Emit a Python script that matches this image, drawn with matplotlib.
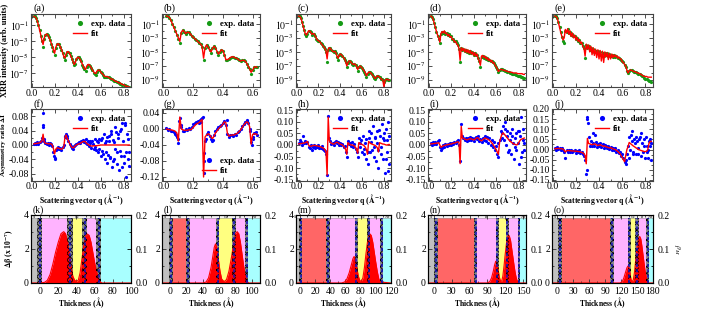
import matplotlib
matplotlib.use('Agg')
import matplotlib.pyplot as plt
import numpy as np
from matplotlib.ticker import FixedLocator, FixedFormatter, NullFormatter, FormatStrFormatter, MultipleLocator

plt.rcParams['font.family'] = ['Liberation Serif', 'DejaVu Serif']
plt.rcParams['mathtext.fontset'] = 'stix'
plt.rcParams['hatch.linewidth'] = 0.6
plt.rcParams['axes.linewidth'] = 0.8

# ---------------- data ----------------
Q = [0.02, 0.03, 0.04, 0.05, 0.06, 0.07, 0.08, 0.09, 0.10, 0.11,
     0.12, 0.13, 0.14, 0.15, 0.16, 0.17, 0.18, 0.19, 0.20, 0.21,
     0.22, 0.23, 0.24, 0.25, 0.26, 0.27, 0.28, 0.29, 0.30, 0.31,
     0.32, 0.33, 0.34, 0.35, 0.36, 0.37, 0.38, 0.39, 0.40, 0.41,
     0.42, 0.43, 0.44, 0.45, 0.46, 0.47, 0.48, 0.49, 0.50, 0.51,
     0.52, 0.53, 0.54, 0.55, 0.56, 0.57, 0.58, 0.59, 0.60, 0.61,
     0.62, 0.63, 0.64, 0.65, 0.66, 0.67, 0.68, 0.69, 0.70, 0.71,
     0.72, 0.73, 0.74, 0.75, 0.76, 0.77, 0.78, 0.79, 0.80, 0.81,
     0.82, 0.83, 0.84, 0.85]

# XRR, log10 of intensity
XRR_A_EXP = [0.15, 0.1, -0.1, -0.5, -1.0, -1.6, -2.3, -3.0, -3.7, -2.7,
             -2.2, -2.1, -2.2, -2.5, -2.9, -3.3, -3.7, -4.2, -4.7, -3.9,
             -3.4, -3.3, -3.4, -3.7, -4.1, -4.5, -5.0, -5.3, -4.7, -4.3,
             -4.3, -4.5, -4.8, -5.2, -5.6, -6.0, -5.8, -5.2, -5.0, -5.0,
             -5.2, -5.5, -5.9, -6.2, -6.5, -6.7, -6.2, -5.9, -5.9, -6.1,
             -6.3, -6.6, -6.9, -7.1, -7.2, -6.8, -6.6, -6.6, -6.8, -7.0,
             -7.2, -7.4, -7.5, -7.5, -7.5, -7.5, -7.6, -7.7, -7.7, -7.8,
             -7.9, -8.0, -8.1, -8.1, -8.2, -8.3, -8.3, -8.4, -8.5, -8.5,
             -8.6, -8.6, -8.7, -8.7]
XRR_A_FIT = [0.1, 0.05, -0.1, -0.5, -1.0, -1.6, -2.2, -2.9, -3.4, -2.6,
             -2.2, -2.1, -2.2, -2.5, -2.8, -3.2, -3.6, -4.1, -4.5, -3.8,
             -3.4, -3.3, -3.4, -3.7, -4.0, -4.4, -4.9, -5.1, -4.6, -4.3,
             -4.3, -4.5, -4.8, -5.1, -5.5, -5.9, -5.7, -5.2, -5.0, -5.0,
             -5.2, -5.5, -5.8, -6.1, -6.4, -6.5, -6.1, -5.9, -5.9, -6.1,
             -6.3, -6.6, -6.8, -7.0, -7.0, -6.7, -6.6, -6.6, -6.8, -7.0,
             -7.1, -7.3, -7.4, -7.4, -7.4, -7.5, -7.6, -7.7, -7.7, -7.8,
             -7.9, -8.0, -8.0, -8.1, -8.2, -8.2, -8.3, -8.4, -8.4, -8.5,
             -8.6, -8.6, -8.7, -8.7]

XRR_B_EXP = [0.15, 0.1, -0.1, -0.5, -1.0, -1.5, -2.0, -2.6, -3.2, -3.8,
             -2.3, -1.9, -2.1, -2.5, -2.2, -2.2, -2.4, -2.7, -2.9, -3.1,
             -3.3, -3.5, -3.7, -3.9, -4.3, -6.2, -4.5, -4.0, -4.3, -4.7,
             -5.1, -4.5, -4.2, -4.4, -5.0, -5.4, -5.0, -4.7, -4.8, -5.5,
             -6.2, -6.1, -6.0, -5.8, -5.7, -5.7, -5.8, -5.9, -6.0, -6.2,
             -6.3, -6.2, -6.2, -6.3, -6.7, -7.1, -7.5, -8.1, -7.6, -7.2,
             -7.1, -7.2]
XRR_B_FIT = [0.1, 0.05, -0.1, -0.5, -1.0, -1.5, -2.0, -2.5, -3.0, -3.5,
             -2.2, -1.9, -2.1, -2.4, -2.2, -2.2, -2.4, -2.7, -2.9, -3.1,
             -3.3, -3.5, -3.7, -3.9, -4.2, -5.9, -4.4, -4.0, -4.3, -4.7,
             -5.0, -4.5, -4.2, -4.4, -4.9, -5.3, -5.0, -4.7, -4.8, -5.4,
             -6.1, -6.1, -6.0, -5.8, -5.7, -5.7, -5.8, -5.9, -6.0, -6.2,
             -6.3, -6.2, -6.2, -6.3, -6.6, -7.0, -7.4, -7.9, -7.6, -7.2,
             -7.1, -7.2]

XRR_C_EXP = [0.15, 0.1, -0.2, -0.7, -1.3, -1.9, -2.5, -2.8, -2.4, -2.0,
             -2.0, -2.2, -2.6, -2.4, -2.4, -2.8, -3.1, -3.3, -3.4, -3.5,
             -3.7, -3.9, -4.1, -4.3, -4.6, -5.0, -6.4, -4.7, -4.4, -4.5,
             -4.7, -4.9, -5.0, -4.9, -5.2, -5.7, -6.1, -5.5, -5.3, -5.4,
             -5.6, -5.8, -6.1, -6.5, -7.2, -6.6, -6.3, -6.3, -6.5, -6.7,
             -6.8, -6.7, -6.9, -7.2, -7.7, -7.2, -7.0, -7.1, -7.3, -7.6,
             -7.8, -8.1, -8.6, -8.2, -7.9, -7.9, -8.0, -8.2, -8.5, -8.7,
             -8.9, -8.6, -8.4, -8.5, -8.6, -8.8, -8.9, -9.0, -9.3, -9.0,
             -8.9, -8.9, -9.0, -9.0]
XRR_C_FIT = [0.1, 0.05, -0.2, -0.7, -1.3, -1.9, -2.4, -2.6, -2.3, -2.0,
             -2.0, -2.2, -2.5, -2.4, -2.4, -2.7, -3.0, -3.3, -3.4, -3.5,
             -3.7, -3.9, -4.1, -4.3, -4.5, -4.9, -6.0, -4.6, -4.4, -4.5,
             -4.7, -4.9, -5.0, -4.9, -5.1, -5.6, -5.9, -5.5, -5.3, -5.4,
             -5.6, -5.8, -6.0, -6.4, -7.0, -6.6, -6.3, -6.3, -6.5, -6.7,
             -6.8, -6.7, -6.8, -7.1, -7.5, -7.2, -7.0, -7.1, -7.3, -7.5,
             -7.7, -8.0, -8.4, -8.1, -7.9, -7.9, -8.0, -8.2, -8.4, -8.6,
             -8.8, -8.6, -8.4, -8.5, -8.6, -8.8, -8.9, -9.0, -10.0, -9.1,
             -8.9, -8.9, -9.0, -9.0]

XRR_D_EXP = [0.15, 0.0, -0.3, -0.9, -1.5, -2.1, -2.7, -3.2, -3.8, -2.5,
             -2.1, -2.3, -2.1, -2.4, -2.3, -2.6, -2.5, -2.8, -2.8, -3.1,
             -3.2, -3.5, -3.5, -3.8, -4.0, -4.6, -6.5, -4.5, -4.7, -4.6,
             -4.9, -4.7, -5.0, -4.8, -5.1, -4.9, -5.2, -5.0, -5.4, -5.2,
             -5.5, -5.4, -5.8, -6.3, -7.1, -5.7, -5.6, -5.8, -5.7, -6.0,
             -5.9, -6.1, -6.1, -6.3, -6.3, -6.5, -6.6, -6.9, -7.2, -7.5,
             -7.9, -7.6, -7.5, -7.5, -7.6, -7.6, -7.7, -7.7, -7.8, -7.9,
             -8.0, -8.0, -8.1, -8.1, -8.2, -8.2, -8.3, -8.4, -8.4, -8.5,
             -8.6, -8.6, -8.7, -8.7]
XRR_D_FIT = [0.1, 0.0, -0.3, -0.9, -1.5, -2.1, -2.6, -3.0, -3.6, -2.4,
             -2.1, -2.3, -2.0, -2.4, -2.3, -2.7, -2.5, -2.9, -2.8, -3.2,
             -3.2, -3.6, -3.5, -3.9, -4.0, -4.5, -6.2, -4.4, -4.8, -4.5,
             -5.0, -4.6, -5.1, -4.7, -5.2, -4.8, -5.3, -5.0, -5.5, -5.1,
             -5.6, -5.3, -5.9, -6.3, -6.9, -5.6, -5.5, -5.8, -5.6, -6.0,
             -5.8, -6.2, -6.0, -6.4, -6.2, -6.6, -6.5, -6.9, -7.1, -7.4,
             -7.8, -7.6, -7.5, -7.5, -7.6, -7.6, -7.7, -7.7, -7.8, -7.8,
             -7.9, -7.9, -7.9, -8.0, -8.0, -8.0, -8.0, -8.1, -8.1, -8.1,
             -8.1, -8.1, -8.2, -8.2]

XRR_E_EXP = [0.15, 0.1, -0.2, -0.8, -1.5, -2.2, -2.9, -3.4, -3.8, -2.0,
             -2.2, -1.8, -2.3, -2.1, -2.6, -2.4, -2.8, -2.7, -3.1, -3.0,
             -3.4, -3.3, -3.7, -3.7, -4.1, -4.5, -5.9, -4.0, -4.4, -4.2,
             -4.7, -4.4, -4.9, -4.6, -5.0, -4.8, -5.2, -4.9, -5.3, -5.0,
             -5.5, -5.1, -5.6, -5.2, -5.5, -5.2, -5.6, -5.3, -5.6, -5.4,
             -5.7, -5.5, -5.7, -5.6, -5.8, -5.8, -6.0, -6.1, -6.3, -6.5,
             -6.9, -7.2, -7.7, -8.0, -7.7, -7.6, -7.6, -7.7, -7.8, -7.8,
             -7.9, -8.0, -8.1, -8.2, -8.3, -8.4, -8.5, -8.7, -8.8, -8.9,
             -9.0, -9.1, -9.2, -9.3]
XRR_E_FIT = [0.1, 0.05, -0.2, -0.8, -1.5, -2.2, -2.8, -3.3, -3.0, -1.8,
             -2.3, -1.7, -2.5, -2.0, -2.8, -2.3, -3.0, -2.6, -3.3, -2.9,
             -3.5, -3.2, -3.8, -3.6, -4.2, -4.4, -5.6, -3.9, -4.6, -4.0,
             -5.0, -4.2, -5.4, -4.4, -5.5, -4.6, -5.8, -4.7, -6.0, -4.8,
             -6.3, -4.9, -6.5, -5.0, -5.7, -5.1, -6.1, -5.2, -6.0, -5.3,
             -5.8, -5.4, -5.7, -5.5, -5.9, -5.7, -6.0, -6.0, -6.4, -6.5,
             -6.8, -7.0, -7.6, -8.0, -7.7, -7.6, -7.6, -7.7, -7.8, -7.8,
             -7.9, -8.0, -8.0, -8.1, -8.2, -8.3, -8.4, -8.5, -8.5, -8.5,
             -8.6, -8.6, -8.6, -8.6]

# Asymmetry ratio
ASY_F_EXP = [0.002, 0.006, 0.003, 0.008, 0.004, 0.007, 0.010, 0.020, 0.090, 0.012,
             0.006, 0.002, 0.005, 0.001, 0.006, 0.002, -0.004, -0.020, -0.040, -0.015,
             -0.010, -0.006, -0.012, -0.008, -0.014, -0.006, 0.000, 0.025, 0.030, 0.020,
             0.010, 0.004, -0.004, -0.008, -0.010, -0.004, 0.000, 0.004, 0.006, 0.008,
             0.006, 0.010, 0.012, 0.014, 0.008, 0.016, 0.004, 0.010, -0.004, 0.006,
             -0.008, 0.012, -0.010, 0.018, -0.014, 0.010, -0.020, 0.016, -0.030, 0.020,
             -0.024, 0.030, -0.040, 0.010, -0.050, 0.024, -0.032, 0.040, -0.060, 0.014,
             -0.040, 0.050, -0.020, 0.030, -0.070, 0.040, -0.030, 0.060, -0.050, 0.055,
             -0.090, 0.030, -0.040, -0.020]
ASY_F_XQ = [0.100, 0.100, 0.110, 0.195, 0.205, 0.295, 0.305, 0.455, 0.475, 0.505,
            0.535, 0.555, 0.575, 0.585, 0.605, 0.615, 0.635, 0.645, 0.655, 0.665,
            0.675, 0.685, 0.695, 0.705, 0.715, 0.725, 0.735, 0.745, 0.755, 0.765,
            0.775, 0.785, 0.795, 0.805, 0.815, 0.825, 0.835, 0.845]
ASY_F_XV = [0.055, 0.050, 0.018, -0.030, -0.035, 0.022, 0.026, 0.010, 0.006, 0.012,
            0.004, -0.006, 0.008, -0.012, 0.014, -0.016, 0.006, -0.020, 0.022, -0.028,
            0.012, -0.036, 0.030, -0.044, 0.008, -0.010, 0.036, -0.052, 0.020, -0.016,
            0.044, -0.060, 0.010, -0.030, 0.062, -0.020, 0.018, -0.058]
ASY_F_FIT = [0.003, 0.004, 0.004, 0.005, 0.005, 0.006, 0.008, 0.012, 0.030, 0.008,
             0.005, 0.004, 0.004, 0.003, 0.004, 0.003, 0.000, -0.010, -0.025, -0.012,
             -0.008, -0.008, -0.010, -0.010, -0.012, -0.010, -0.005, 0.020, 0.028, 0.018,
             0.012, 0.005, -0.002, -0.006, -0.008, -0.006, -0.002, 0.000, 0.002, 0.003,
             0.004, 0.006, 0.008, 0.010, 0.010, 0.008, 0.004, 0.002, 0.000, -0.002,
             -0.003, -0.003, -0.002, -0.002, -0.002, -0.002, -0.001, -0.001, 0.000, 0.000,
             0.000, 0.000, 0.000, 0.000, 0.000, 0.000, 0.000, 0.000, 0.000, 0.000,
             0.000, 0.000, 0.000, 0.000, 0.000, 0.000, 0.000, 0.000, 0.000, 0.000,
             0.000, 0.000, 0.000, 0.000]

ASY_G_EXP = [0.002, -0.002, 0.000, -0.004, -0.006, -0.008, -0.012, -0.020, -0.036, 0.028,
             0.004, -0.004, -0.004, 0.000, -0.002, 0.002, 0.000, 0.006, 0.012, 0.016,
             0.018, 0.020, 0.014, 0.024, 0.028, -0.080, -0.030, -0.012, -0.008, -0.018,
             -0.026, -0.030, -0.016, -0.006, 0.000, 0.004, 0.008, 0.010, 0.014, 0.020,
             0.010, -0.012, -0.020, -0.016, -0.014, -0.018, -0.012, -0.014, -0.008, -0.004,
             0.000, 0.008, 0.012, 0.018, 0.020, 0.014, 0.000, -0.032, -0.020, -0.010,
             -0.008, -0.016]
ASY_G_XQ = [0.085, 0.095, 0.105, 0.115, 0.245, 0.255, 0.265, 0.275, 0.275, 0.285,
            0.335, 0.425, 0.565, 0.585, 0.595, 0.605]
ASY_G_XV = [-0.014, -0.026, 0.020, 0.010, 0.022, 0.018, 0.030, -0.060, -0.110, -0.024,
            -0.028, 0.022, 0.022, -0.006, -0.040, -0.024]
ASY_G_FIT = [0.000, -0.001, -0.002, -0.002, -0.003, -0.004, -0.006, -0.010, -0.030, 0.030,
             0.000, -0.002, -0.003, -0.003, -0.003, -0.002, -0.002, 0.000, 0.004, 0.008,
             0.012, 0.014, 0.016, 0.020, 0.024, -0.120, -0.020, -0.015, -0.012, -0.014,
             -0.020, -0.024, -0.018, -0.010, -0.005, 0.000, 0.004, 0.008, 0.012, 0.018,
             0.016, -0.010, -0.018, -0.016, -0.015, -0.015, -0.014, -0.012, -0.010, -0.006,
             -0.002, 0.004, 0.010, 0.014, 0.018, 0.016, 0.006, -0.038, -0.014, -0.012,
             -0.012, -0.014]

ASY_H_EXP = [0.010, 0.020, 0.012, 0.000, 0.040, 0.010, 0.016, 0.008, 0.012, -0.010,
             -0.014, 0.000, -0.020, -0.008, 0.002, -0.012, -0.004, -0.008, -0.002, -0.012,
             -0.014, -0.006, -0.018, -0.020, -0.026, -0.040, -0.130, 0.125, 0.030, 0.016,
             0.006, 0.010, 0.000, 0.012, 0.016, 0.008, 0.014, 0.002, 0.010, 0.000,
             0.006, -0.010, -0.004, -0.030, -0.050, 0.016, 0.004, 0.010, -0.006, 0.012,
             -0.010, 0.006, -0.016, -0.030, -0.050, 0.030, -0.010, 0.020, -0.030, 0.040,
             -0.040, 0.010, -0.060, -0.080, 0.060, -0.030, 0.050, -0.020, 0.080, -0.050,
             0.030, -0.070, 0.060, -0.100, 0.040, -0.040, 0.090, -0.060, 0.020, -0.120,
             0.070, -0.030, 0.100, -0.080]
ASY_H_XQ = [0.585, 0.615, 0.635, 0.655, 0.665, 0.685, 0.705, 0.715, 0.735, 0.745,
            0.755, 0.775, 0.795, 0.805, 0.815, 0.825, 0.835, 0.845]
ASY_H_XV = [0.010, -0.016, 0.024, -0.030, 0.030, 0.014, -0.008, 0.036, 0.010, -0.020,
            0.064, -0.010, 0.030, 0.050, -0.060, 0.020, -0.110, 0.040]
ASY_H_FIT = [0.005, 0.006, 0.006, 0.007, 0.008, 0.008, 0.010, 0.012, 0.015, 0.000,
             -0.005, -0.006, -0.004, -0.003, -0.002, -0.002, -0.003, -0.004, -0.005, -0.006,
             -0.008, -0.010, -0.012, -0.015, -0.020, -0.030, -0.130, 0.120, 0.020, 0.010,
             0.008, 0.005, 0.004, 0.006, 0.010, 0.012, 0.010, 0.006, 0.004, 0.002,
             0.000, -0.005, -0.010, -0.020, -0.040, 0.010, 0.005, 0.002, 0.000, 0.000,
             -0.002, -0.004, -0.010, -0.020, -0.035, 0.010, 0.008, 0.004, 0.002, 0.000,
             -0.004, -0.010, -0.020, -0.040, 0.015, 0.010, 0.006, 0.004, 0.002, 0.000,
             -0.002, -0.006, -0.012, -0.030, 0.010, 0.008, 0.006, 0.004, 0.004, 0.002,
             0.000, 0.000, 0.002, 0.002]

ASY_I_EXP = [0.010, 0.000, 0.012, 0.004, 0.014, 0.006, 0.016, 0.020, -0.010, -0.020,
             -0.012, 0.000, -0.008, 0.004, -0.004, 0.006, 0.000, 0.008, 0.002, 0.010,
             0.006, 0.012, 0.008, 0.016, 0.020, 0.000, -0.070, 0.090, 0.040, 0.030,
             0.020, 0.030, 0.018, 0.032, 0.022, 0.034, 0.020, 0.030, 0.016, 0.028,
             0.036, 0.024, 0.040, 0.018, 0.026, 0.012, 0.030, 0.020, 0.040, 0.016,
             0.036, 0.010, 0.030, 0.000, 0.020, -0.010, 0.012, -0.020, -0.006, -0.040,
             -0.050, 0.020, 0.060, 0.030, 0.080, 0.020, 0.070, 0.000, 0.060, -0.020,
             0.050, -0.040, 0.040, 0.010, -0.060, 0.030, -0.020, 0.060, -0.080, 0.040,
             0.120, -0.030, 0.070, 0.010]
ASY_I_XQ = [0.615, 0.655, 0.675, 0.695, 0.705, 0.725, 0.745, 0.765, 0.775, 0.795,
            0.805, 0.825, 0.835, 0.845]
ASY_I_XV = [0.010, 0.050, 0.100, 0.040, -0.030, 0.020, 0.070, -0.010, 0.050, 0.010,
            0.060, -0.050, 0.020, -0.020]
ASY_I_FIT = [0.005, 0.005, 0.006, 0.006, 0.007, 0.008, 0.008, 0.010, 0.000, -0.010,
             -0.006, -0.004, -0.002, 0.000, 0.000, 0.002, 0.002, 0.004, 0.004, 0.006,
             0.008, 0.008, 0.010, 0.012, 0.014, 0.010, -0.080, 0.080, 0.030, 0.028,
             0.026, 0.024, 0.022, 0.024, 0.026, 0.028, 0.026, 0.024, 0.022, 0.024,
             0.028, 0.032, 0.030, 0.024, 0.020, 0.018, 0.022, 0.026, 0.030, 0.028,
             0.026, 0.024, 0.020, 0.016, 0.010, 0.004, -0.004, -0.012, -0.020, -0.030,
             -0.040, 0.010, 0.030, 0.045, 0.052, 0.048, 0.042, 0.036, 0.030, 0.024,
             0.018, 0.014, 0.010, 0.006, 0.004, 0.002, 0.000, 0.002, 0.010, 0.018,
             0.024, 0.026, 0.028, 0.030]

ASY_J_EXP = [0.010, 0.000, 0.012, 0.004, 0.008, -0.004, 0.010, 0.000, -0.010, -0.040,
             -0.002, -0.012, 0.000, -0.010, -0.004, -0.014, -0.006, -0.002, -0.016, -0.008,
             -0.014, -0.004, -0.018, -0.010, -0.020, -0.030, -0.050, -0.120, 0.150, 0.060,
             0.020, 0.040, 0.016, 0.030, 0.020, 0.036, 0.014, 0.028, 0.020, 0.032,
             0.012, 0.026, 0.010, 0.022, 0.018, 0.006, 0.016, 0.004, 0.014, 0.000,
             0.008, -0.004, 0.006, -0.010, 0.000, -0.016, -0.010, -0.030, -0.020, -0.040,
             -0.060, -0.050, -0.020, 0.020, 0.060, 0.000, 0.090, -0.010, 0.050, 0.030,
             -0.020, 0.040, 0.010, 0.060, -0.030, 0.030, -0.010, 0.050, -0.040, 0.020,
             -0.040, 0.040, 0.020, -0.050]
ASY_J_XQ = [0.295, 0.305, 0.295, 0.345, 0.365, 0.635, 0.655, 0.675, 0.685, 0.695,
            0.715, 0.735, 0.745, 0.765, 0.785, 0.805, 0.815, 0.825, 0.835, 0.845]
ASY_J_XV = [0.160, 0.130, -0.100, 0.080, 0.070, -0.070, -0.040, 0.070, 0.040, -0.020,
            0.060, -0.020, 0.050, 0.080, 0.020, 0.060, -0.010, 0.000, 0.050, 0.030]
ASY_J_FIT = [0.004, 0.005, 0.005, 0.006, 0.005, 0.004, 0.004, 0.002, -0.004, -0.012,
             -0.006, -0.005, -0.005, -0.006, -0.006, -0.007, -0.007, -0.008, -0.008, -0.008,
             -0.010, -0.010, -0.012, -0.014, -0.016, -0.020, -0.030, -0.070, 0.055, 0.030,
             0.028, 0.026, 0.024, 0.026, 0.028, 0.026, 0.022, 0.020, 0.022, 0.024,
             0.020, 0.018, 0.016, 0.018, 0.014, 0.012, 0.010, 0.008, 0.010, 0.006,
             0.004, 0.002, 0.000, -0.004, -0.008, -0.014, -0.020, -0.030, -0.040, -0.050,
             -0.060, -0.030, 0.000, 0.015, 0.035, 0.030, 0.025, 0.020, 0.016, 0.012,
             0.008, 0.004, 0.000, -0.002, -0.004, -0.006, -0.008, -0.010, -0.010, -0.008,
             0.000, 0.030, 0.040, 0.040]

# Depth profiles: layers (name, start, end) and interfaces (start, end) in Angstrom
K_LAYERS = [('Si', -10, -3), ('Pt', 2, 30), ('Co', 36, 46), ('Pt', 52, 62), ('Air', 67, 100)]
K_IFACES = [(-3, 2), (30, 36), (46, 52), (62, 67)]
K_PX = [-10, 0, 5, 8, 11, 14, 17, 20, 23, 26, 28, 30, 32, 34, 36, 38, 40, 42, 44, 46,
        48, 50, 52, 54, 56, 58, 60, 62, 64, 66, 68, 100]
K_PV = [0, 0, 0.002, 0.008, 0.025, 0.055, 0.09, 0.12, 0.145, 0.151, 0.145, 0.125, 0.09,
        0.05, 0.02, 0.008, 0.005, 0.008, 0.03, 0.07, 0.11, 0.138, 0.144, 0.14, 0.12,
        0.09, 0.06, 0.035, 0.015, 0.004, 0, 0]

L_LAYERS = [('Si', -10, -2), ('Ta', 4, 20), ('Pt', 23.7, 56), ('Co', 60, 76), ('Pt', 81, 91.7), ('Air', 95.7, 110)]
L_IFACES = [(-2, 4), (20, 23.7), (56, 60), (76, 81), (91.7, 95.7)]
L_PX = [-10, 40, 44, 47, 50, 52, 54, 55.5, 57, 59, 61, 63, 66, 69, 72, 75, 78, 80, 82,
        84, 86, 88, 90, 92, 94, 96, 110]
L_PV = [0, 0, 0.003, 0.015, 0.045, 0.075, 0.105, 0.115, 0.105, 0.07, 0.035, 0.012, 0.004,
        0.01, 0.035, 0.075, 0.12, 0.145, 0.151, 0.145, 0.12, 0.085, 0.05, 0.022, 0.006, 0, 0]

M_LAYERS = [('Si', -10, -1), ('Ta', 3, 35), ('Pt', 39.5, 72), ('Co', 77, 89), ('Pt', 93, 106), ('Air', 110, 120)]
M_IFACES = [(-1, 3), (35, 39.5), (72, 77), (89, 93), (106, 110)]
M_PX = [-10, 55, 59, 62, 65, 68, 70, 71.5, 73, 75, 77, 79, 81, 83, 85, 87, 89, 91, 92.5,
        94, 96, 98, 100, 102, 104, 106, 120]
M_PV = [0, 0, 0.003, 0.012, 0.03, 0.055, 0.072, 0.078, 0.07, 0.045, 0.02, 0.007, 0.005,
        0.015, 0.045, 0.085, 0.12, 0.14, 0.144, 0.14, 0.12, 0.09, 0.06, 0.033, 0.012, 0.003, 0]

N_LAYERS = [('Si', -10, 0), ('Ta', 6.5, 68), ('Pt', 72, 104), ('Co', 110, 120.6), ('Pt', 126, 141), ('Air', 145.6, 155)]
N_IFACES = [(0, 6.5), (68, 72), (104, 110), (120.6, 126), (141, 145.6)]
N_PX = [-10, 90, 94, 97, 100, 102, 104, 106, 108, 110, 112, 114, 116, 118, 120, 122, 124,
        125.5, 127, 129, 131, 133, 135, 137, 139, 141, 143, 155]
N_PV = [0, 0, 0.004, 0.015, 0.035, 0.052, 0.064, 0.06, 0.04, 0.018, 0.006, 0.005, 0.02,
        0.05, 0.085, 0.115, 0.135, 0.141, 0.138, 0.125, 0.1, 0.075, 0.05, 0.028, 0.012,
        0.004, 0, 0]

O_LAYERS = [('Si', -10, 2), ('Ta', 9.4, 99), ('Pt', 107, 133), ('Co', 138, 147), ('Pt', 153, 167.5), ('Air', 172, 180)]
O_IFACES = [(2, 9.4), (99, 107), (133, 138), (147, 153), (167.5, 172)]
O_PX = [-10, 118, 122, 125, 128, 131, 133, 135, 137, 139, 141, 143, 145, 147, 149, 151,
        153, 155, 157, 159, 161, 163, 165, 167, 169, 171, 180]
O_PV = [0, 0, 0.004, 0.014, 0.03, 0.045, 0.05, 0.045, 0.025, 0.008, 0.004, 0.01, 0.03,
        0.06, 0.09, 0.115, 0.132, 0.137, 0.13, 0.11, 0.085, 0.06, 0.037, 0.018, 0.006, 0, 0]

LAYER_COLORS = {'Si': '#c0c0c0', 'Ta': '#ff6666', 'Pt': '#ffb3ff', 'Co': '#ffff80', 'Air': '#a8ffff'}

# ---------------- layout ----------------
W, H = 728, 322
fig = plt.figure(figsize=(W / 100, H / 100), dpi=100)

COLS = [(31, 131), (162, 260), (296, 391), (428, 526), (552, 653)]
ROWS = [(14, 87), (109, 181), (215, 283)]
GREEN = '#159a15'
TICK_FS = 7


def ax_px(l, t, r, b):
    return fig.add_axes([l / W, 1 - b / H, (r - l) / W, (b - t) / H])


def style(ax):
    ax.tick_params(which='both', direction='in', top=True, right=True, labelsize=TICK_FS,
                   pad=1.5, width=0.6, colors='#333333', labelcolor='black')
    ax.tick_params(which='major', length=3)
    ax.tick_params(which='minor', length=1.6)
    for s in ax.spines.values():
        s.set_color('#444444')


def letter(ax, s, dy=1.02, fs=7.5):
    ax.text(0.02, dy, s, transform=ax.transAxes, fontsize=fs, va='bottom', ha='left')


def leg(ax, loc):
    ax.legend(loc=loc, frameon=False, prop={'weight': 'bold', 'size': 6.3}, numpoints=1,
              handlelength=1.6, handletextpad=0.5, labelspacing=0.25, borderaxespad=0.25,
              markerscale=1.6)


# ---- row 1: XRR ----
XRR = [('(a)', XRR_A_EXP, XRR_A_FIT, (-0.005, 0.865), (-8.7, 0.4), [-1, -3, -5, -7]),
       ('(b)', XRR_B_EXP, XRR_B_FIT, (-0.01, 0.65), (-10, 0.4), [-1, -3, -5, -7, -9]),
       ('(c)', XRR_C_EXP, XRR_C_FIT, (-0.005, 0.865), (-10, 0.4), [-1, -3, -5, -7, -9]),
       ('(d)', XRR_D_EXP, XRR_D_FIT, (-0.005, 0.865), (-10, 0.4), [-1, -3, -5, -7, -9]),
       ('(e)', XRR_E_EXP, XRR_E_FIT, (-0.005, 0.865), (-10, 0.4), [-1, -3, -5, -7, -9])]
for i, (lab, ex, ft, xl, yl, yt) in enumerate(XRR):
    l, r = COLS[i]
    t, b = ROWS[0]
    ax = ax_px(l, t, r, b)
    n = min(len(Q), len(ex), len(ft))
    qq = np.array(Q[:n])
    ax.plot(qq, 10.0 ** np.array(ex[:n]), 'o', color=GREEN, ms=2.3, mew=0, label='exp. data', zorder=2)
    ax.plot(qq, 10.0 ** np.array(ft[:n]), '-', color='red', lw=1.0, label='fit', zorder=3)
    ax.set_yscale('log')
    ax.set_xlim(*xl)
    ax.set_ylim(10.0 ** yl[0], 10.0 ** yl[1])
    ax.yaxis.set_major_locator(FixedLocator([10.0 ** e for e in yt]))
    ax.yaxis.set_major_formatter(FixedFormatter([r'$10^{%d}$' % e for e in yt]))
    ax.yaxis.set_minor_locator(FixedLocator([10.0 ** e for e in range(-10, 1)]))
    ax.yaxis.set_minor_formatter(NullFormatter())
    ax.xaxis.set_major_locator(MultipleLocator(0.2))
    ax.xaxis.set_minor_locator(MultipleLocator(0.1))
    ax.xaxis.set_major_formatter(FormatStrFormatter('%.1f'))
    style(ax)
    letter(ax, lab)
    leg(ax, 'upper right')
    if i == 0:
        ax.set_ylabel('XRR intensity (arb. units)', fontsize=6.0, fontweight='bold')
        ax.yaxis.set_label_coords(-0.22, 0.5)

# ---- row 2: asymmetry ----
ASY = [('(f)', ASY_F_EXP, ASY_F_XQ, ASY_F_XV, ASY_F_FIT, (-0.005, 0.865), (-0.1, 0.1), 0.04, '%.2f', 'upper right'),
       ('(g)', ASY_G_EXP, ASY_G_XQ, ASY_G_XV, ASY_G_FIT, (-0.01, 0.65), (-0.13, 0.05), 0.04, '%.2f', 'lower right'),
       ('(h)', ASY_H_EXP, ASY_H_XQ, ASY_H_XV, ASY_H_FIT, (-0.005, 0.865), (-0.155, 0.155), 0.05, '%.2f', 'upper right'),
       ('(i)', ASY_I_EXP, ASY_I_XQ, ASY_I_XV, ASY_I_FIT, (-0.005, 0.865), (-0.155, 0.155), 0.05, '%.2f', 'upper right'),
       ('(j)', ASY_J_EXP, ASY_J_XQ, ASY_J_XV, ASY_J_FIT, (-0.005, 0.865), (-0.155, 0.2), 0.05, '%.2f', 'upper right')]
for i, (lab, ex, xq, xv, ft, xl, yl, ystep, fmt, lloc) in enumerate(ASY):
    l, r = COLS[i]
    t, b = ROWS[1]
    ax = ax_px(l, t, r, b)
    n = min(len(Q), len(ex), len(ft))
    qq = np.array(Q[:n])
    m = min(len(xq), len(xv))
    allq = np.concatenate([qq, np.array(xq[:m])])
    allv = np.concatenate([np.array(ex[:n]), np.array(xv[:m])])
    ax.plot(allq, allv, 'o', color='blue', ms=2.3, mew=0, label='exp. data', zorder=2)
    ax.plot(qq, np.array(ft[:n]), '-', color='red', lw=1.0, label='fit', zorder=3)
    ax.set_xlim(*xl)
    ax.set_ylim(*yl)
    ax.yaxis.set_major_locator(MultipleLocator(ystep))
    ax.yaxis.set_minor_locator(MultipleLocator(ystep / 2))
    ax.yaxis.set_major_formatter(FormatStrFormatter(fmt))
    ax.xaxis.set_major_locator(MultipleLocator(0.2))
    ax.xaxis.set_minor_locator(MultipleLocator(0.1))
    ax.xaxis.set_major_formatter(FormatStrFormatter('%.1f'))
    style(ax)
    ax.tick_params(axis='x', pad=1)
    letter(ax, lab, dy=1.0)
    leg(ax, lloc)
    ax.set_xlabel(r'Scattering vector q ($\mathbf{\AA^{-1}}$)', fontsize=5.6, fontweight='bold', labelpad=0.3)
    if i == 0:
        ax.set_ylabel(r'Asymmetry ratio $\mathbf{\Delta I}$', fontsize=5.2, fontweight='bold')
        ax.yaxis.set_label_coords(-0.225, 0.5)

# ---- row 3: depth profiles ----
TH = [('(k)', K_LAYERS, K_IFACES, K_PX, K_PV, (-10, 100), 20),
      ('(l)', L_LAYERS, L_IFACES, L_PX, L_PV, (-10, 110), 20),
      ('(m)', M_LAYERS, M_IFACES, M_PX, M_PV, (-5, 120), 20),
      ('(n)', N_LAYERS, N_IFACES, N_PX, N_PV, (-10, 155), 30),
      ('(o)', O_LAYERS, O_IFACES, O_PX, O_PV, (-10, 180), 30)]
TOP = 3.8
for i, (lab, layers, ifaces, px, pv, xl, xstep) in enumerate(TH):
    l, r = COLS[i]
    t, b = ROWS[2]
    ax = ax_px(l, t, r, b)
    ax.set_xlim(*xl)
    ax.set_ylim(0, 4)
    for name, a, c in layers:
        ax.axvspan(a, c, ymin=0, ymax=TOP / 4, color=LAYER_COLORS[name], lw=0, zorder=0.5)
        ax.text((a + c) / 2, 3.9, name, fontsize=2.8, ha='center', va='center', zorder=4)
    ax.axhspan(TOP, 4, color='#f4f4f4', lw=0, zorder=0.4)
    ax.axhline(TOP, color='#999999', lw=0.4, zorder=0.6)
    for a, c in ifaces:
        ax.axvspan(a, c, ymin=0, ymax=TOP / 4, color='#8a8a8a', lw=0, zorder=0.7)
    ax.yaxis.set_major_locator(FixedLocator([0, 2, 4]))
    ax.yaxis.set_minor_locator(FixedLocator([1, 3]))
    ax.xaxis.set_major_locator(MultipleLocator(xstep))
    ax.xaxis.set_minor_locator(MultipleLocator(xstep / 2))
    style(ax)
    ax.tick_params(right=False, which='both')
    ax.tick_params(axis='x', pad=3)
    ax.set_xlabel(r'Thickness ($\mathbf{\AA}$)', fontsize=5.5, fontweight='bold', labelpad=-0.5)
    letter(ax, lab, dy=1.0, fs=7)
    if i == 0:
        ax.set_ylabel(r'$\mathbf{\Delta\beta}$ (x 10$^{\mathbf{-7}}$)', fontsize=5.5, fontweight='bold')
        ax.yaxis.set_label_coords(-0.15, 0.5)
    ax2 = ax.twinx()
    ax2.set_ylim(0, 0.2)
    ax2.fill_between(px, 0, pv, color='#ff0000', lw=0, zorder=2)
    ax2.plot(px, pv, color='#ff0000', lw=0.8, zorder=2.1)
    for a, c in ifaces:
        ax2.axvspan(a, c, ymin=0, ymax=TOP / 4, facecolor='none', edgecolor='black', hatch='xxxxx',
                    lw=0, zorder=3)
        ax2.axvline((a + c) / 2, ymin=0, ymax=TOP / 4, color='#1010c0', ls=(0, (2, 1.5)), lw=1.1, zorder=3.5)
    ax2.yaxis.set_major_locator(FixedLocator([0.0, 0.1, 0.2]))
    ax2.yaxis.set_minor_locator(FixedLocator([0.05, 0.15]))
    ax2.yaxis.set_major_formatter(FormatStrFormatter('%.1f'))
    ax2.tick_params(which='both', direction='in', labelsize=TICK_FS, pad=3, width=0.6)
    ax2.tick_params(which='major', length=3)
    ax2.tick_params(which='minor', length=1.6)
    if i == 4:
        ax2.set_ylabel(r'$\rho_M$', fontsize=5.5, rotation=270, labelpad=9)

fig.savefig('out.png', dpi=100)
